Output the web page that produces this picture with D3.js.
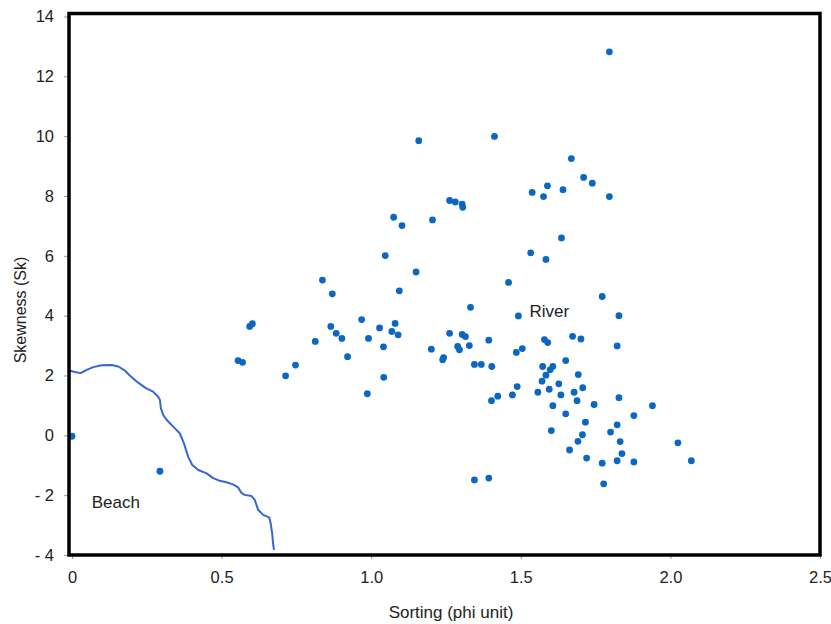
<!DOCTYPE html>
<html>
<head>
<meta charset="utf-8">
<script src="https://cdn.jsdelivr.net/npm/d3@7/dist/d3.min.js"></script>
<style>
  html, body { margin: 0; padding: 0; background: #fff; }
  svg { display: block; font-family: "Liberation Sans", Arial, sans-serif; }
</style>
</head>
<body>
<svg id="chart" width="831" height="624"></svg>
<script>
// Sorting (phi unit) of the river samples
const riverSorting = [
  1.159, 1.412, 1.262, 1.281, 1.304, 1.306, 1.075, 1.103, 1.205, 1.047,
  1.150, 0.837, 0.870, 1.094, 1.459, 1.332, 1.492, 0.594, 0.603, 0.865,
  0.883, 0.902, 0.813, 0.968, 0.991, 1.028, 1.080, 1.069, 1.090, 1.041,
  1.262, 1.304, 1.315, 1.328, 1.289, 1.295, 1.201, 1.393, 1.796, 1.669,
  1.710, 1.739, 1.589, 1.538, 1.576, 1.641, 1.796, 1.636, 1.533, 1.584,
  1.772, 1.828, 1.579, 1.590, 1.673, 1.701, 1.822, 1.505, 1.485, 1.650,
  1.573, 1.607, 1.584, 1.598, 1.692, 1.571, 1.488, 1.472, 1.423, 1.402,
  1.557, 1.595, 1.627, 1.634, 1.678, 1.688, 1.707, 1.607, 1.745, 1.828,
  1.940, 1.650, 1.878, 1.716, 1.602, 1.822, 1.800, 1.706, 1.691, 1.832,
  1.663, 2.025, 1.838, 1.720, 1.772, 1.822, 1.878, 2.070, 1.777, 0.555,
  0.570, 0.747, 0.714, 0.921, 1.042, 0.987, 1.242, 1.239, 1.345, 1.368,
  1.403, 1.345, 1.393
];
// Skewness (Sk) of the river samples
const riverSkewness = [
  9.85, 9.99, 7.85, 7.80, 7.73, 7.62, 7.29, 7.01, 7.20, 6.01,
  5.46, 5.19, 4.73, 4.83, 5.11, 4.28, 3.99, 3.64, 3.73, 3.64,
  3.41, 3.24, 3.14, 3.87, 3.24, 3.59, 3.74, 3.47, 3.36, 2.96,
  3.41, 3.37, 3.30, 3.00, 2.97, 2.86, 2.88, 3.18, 12.82, 9.25,
  8.62, 8.43, 8.34, 8.12, 7.98, 8.21, 7.98, 6.60, 6.10, 5.88,
  4.64, 4.00, 3.20, 3.10, 3.31, 3.22, 2.99, 2.90, 2.77, 2.50,
  2.30, 2.30, 2.01, 2.19, 2.03, 1.81, 1.63, 1.35, 1.31, 1.16,
  1.44, 1.54, 1.72, 1.35, 1.44, 1.16, 1.59, 0.99, 1.03, 1.26,
  0.99, 0.72, 0.66, 0.44, 0.16, 0.35, 0.11, 0.02, -0.20, -0.21,
  -0.49, -0.25, -0.61, -0.76, -0.93, -0.85, -0.89, -0.85, -1.62, 2.50,
  2.44, 2.35, 1.99, 2.63, 1.94, 1.39, 2.60, 2.53, 2.37, 2.37,
  2.30, -1.49, -1.43
];
// Beach samples
const beachSorting = [0.0, 0.294];
const beachSkewness = [-0.03, -1.20];

// Dividing line between the beach and river fields
const boundarySorting = [
  -0.007, 0.010, 0.029, 0.049, 0.071, 0.099, 0.133, 0.155, 0.177, 0.194,
  0.221, 0.247, 0.271, 0.288, 0.294, 0.297, 0.305, 0.316, 0.338, 0.360,
  0.374, 0.388, 0.402, 0.422, 0.450, 0.472, 0.494, 0.516, 0.538, 0.555,
  0.566, 0.577, 0.600, 0.611, 0.622, 0.639, 0.659, 0.664, 0.669, 0.672,
  0.675
];
const boundarySkewness = [
  2.16, 2.12, 2.08, 2.19, 2.28, 2.34, 2.35, 2.30, 2.16, 1.99,
  1.76, 1.58, 1.46, 1.29, 1.18, 0.91, 0.68, 0.52, 0.29, 0.07,
  -0.26, -0.71, -0.99, -1.16, -1.27, -1.43, -1.52, -1.57, -1.64, -1.74,
  -1.92, -1.99, -2.03, -2.16, -2.49, -2.66, -2.74, -2.94, -3.27, -3.61,
  -3.83
];

const xTicks = [0, 0.5, 1.0, 1.5, 2.0, 2.5];
const xTickLabels = ["0", "0.5", "1.0", "1.5", "2.0", "2.5"];
const yTicks = [-4, -2, 0, 2, 4, 6, 8, 10, 12, 14];
const yTickLabels = ["- 4", "- 2", "0", "2", "4", "6", "8", "10", "12", "14"];

const fieldLabels = [
  { text: "River", x: 1.529, y: 3.96 },
  { text: "Beach", x: 0.066, y: -2.43 }
];

const svg = d3.select("#chart");
const plotLeft = 69, plotRight = 820, plotTop = 13.5, plotBottom = 555;

const x = d3.scaleLinear().domain([-0.01, 2.5]).range([plotLeft, plotRight]);
const y = d3.scaleLinear().domain([-4, 14.1]).range([plotBottom, plotTop]);

const textColor = "#222";

// x axis
const xAxis = d3.axisBottom(x)
  .tickValues(xTicks)
  .tickFormat((d, i) => xTickLabels[i])
  .tickSize(4)
  .tickPadding(12);
const gx = svg.append("g").attr("transform", `translate(0,${plotBottom})`).call(xAxis);
gx.select(".domain").remove();
gx.selectAll(".tick line").attr("stroke", "#999");
gx.selectAll(".tick text").attr("fill", textColor).style("font-size", "16.5px");

// y axis
const yAxis = d3.axisLeft(y)
  .tickValues(yTicks)
  .tickFormat((d, i) => yTickLabels[i])
  .tickSize(5)
  .tickPadding(10);
const gy = svg.append("g").attr("transform", `translate(${plotLeft},0)`).call(yAxis);
gy.select(".domain").remove();
gy.selectAll(".tick line").attr("stroke", "#999");
gy.selectAll(".tick text").attr("fill", textColor).style("font-size", "16.5px");

// axis titles
svg.append("text")
  .attr("x", 451).attr("y", 618)
  .attr("text-anchor", "middle")
  .attr("fill", textColor)
  .style("font-size", "17px")
  .text("Sorting (phi unit)");

svg.append("text")
  .attr("transform", "translate(26,310) rotate(-90)")
  .attr("text-anchor", "middle")
  .attr("fill", textColor)
  .style("font-size", "16px")
  .text("Skewness (Sk)");

// boundary curve
const boundary = boundarySorting.map((s, i) => [s, boundarySkewness[i]]);
svg.append("path")
  .datum(boundary)
  .attr("fill", "none")
  .attr("stroke", "#3366d6")
  .attr("stroke-width", 2)
  .attr("stroke-linejoin", "round")
  .attr("d", d3.line().x(d => x(d[0])).y(d => y(d[1])));

// sample points
const points = riverSorting.map((s, i) => [s, riverSkewness[i]])
  .concat(beachSorting.map((s, i) => [s, beachSkewness[i]]));
svg.append("g").selectAll("circle")
  .data(points)
  .join("circle")
  .attr("cx", d => x(d[0]))
  .attr("cy", d => y(d[1]))
  .attr("r", 3.4)
  .attr("fill", "#0b67c2");

// field labels
svg.append("g").selectAll("text")
  .data(fieldLabels)
  .join("text")
  .attr("x", d => x(d.x))
  .attr("y", d => y(d.y))
  .attr("fill", textColor)
  .style("font-size", "17px")
  .text(d => d.text);

// plot frame
svg.append("rect")
  .attr("x", plotLeft).attr("y", plotTop)
  .attr("width", plotRight - plotLeft).attr("height", plotBottom - plotTop)
  .attr("fill", "none")
  .attr("stroke", "#000")
  .attr("stroke-width", 3.5);
</script>
</body>
</html>
